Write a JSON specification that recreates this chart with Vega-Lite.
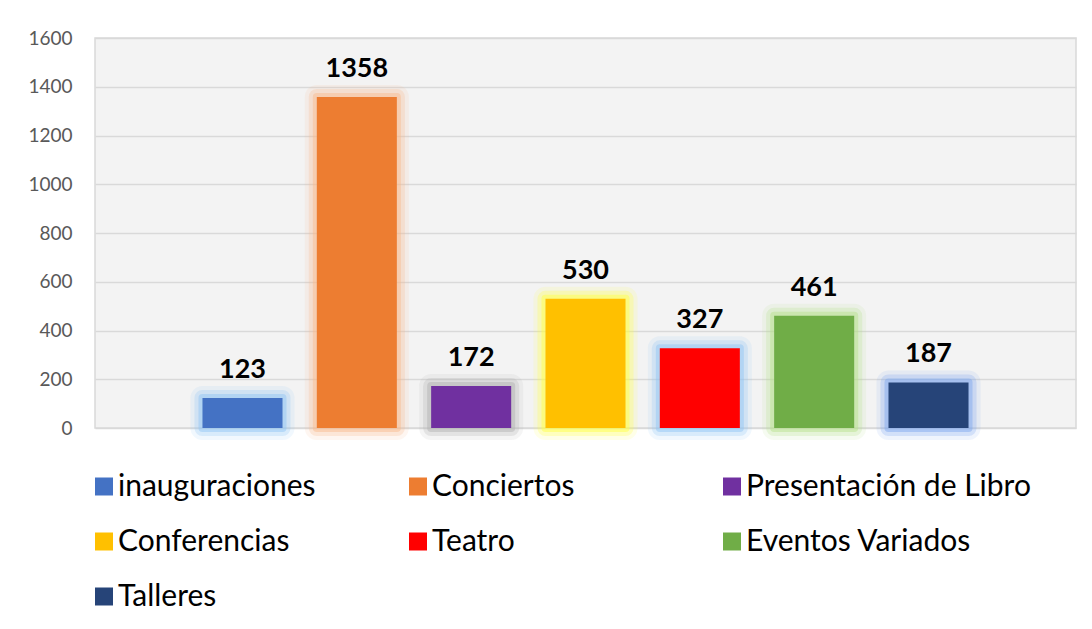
{
  "$schema": "https://vega.github.io/schema/vega-lite/v6.json",
  "width": 981,
  "height": 390,
  "autosize": {"type": "none"},
  "padding": {"left": 95, "top": 38, "right": 16, "bottom": 201},
  "background": "white",
  "config": {
    "font": "Lato",
    "view": {"fill": "#f3f3f3", "stroke": "#d9d9d9", "strokeWidth": 1.5},
    "legend": {
      "orient": "none",
      "legendX": -6,
      "legendY": 433.5,
      "direction": "horizontal",
      "columns": 3,
      "gridAlign": "all",
      "columnPadding": 0,
      "rowPadding": 25,
      "padding": 0,
      "symbolType": "square",
      "symbolSize": 324,
      "symbolStrokeWidth": 0,
      "symbolOpacity": 1,
      "labelFontSize": 30,
      "labelFont": "Lato",
      "labelColor": "#000000",
      "labelOffset": -1,
      "labelLimit": 400,
      "title": null
    }
  },
  "data": {
    "values": [
      {"categoria": "inauguraciones", "valor": 123},
      {"categoria": "Conciertos", "valor": 1358},
      {"categoria": "Presentación de Libro", "valor": 172},
      {"categoria": "Conferencias", "valor": 530},
      {"categoria": "Teatro", "valor": 327},
      {"categoria": "Eventos Variados", "valor": 461},
      {"categoria": "Talleres", "valor": 187}
    ]
  },
  "encoding": {
    "x": {
      "field": "categoria",
      "type": "nominal",
      "sort": null,
      "scale": {"paddingInner": 0.3, "paddingOuter": 0.94},
      "axis": null
    },
    "y": {
      "field": "valor",
      "type": "quantitative",
      "scale": {"domain": [0, 1600], "nice": false},
      "axis": {
        "title": null,
        "format": "d",
        "values": [0, 200, 400, 600, 800, 1000, 1200, 1400, 1600],
        "domain": false,
        "ticks": false,
        "labelPadding": 23,
        "labelFontSize": 19,
        "labelColor": "#595959",
        "labelFont": "Lato",
        "gridColor": "#d9d9d9",
        "gridWidth": 1.5
      }
    }
  },
  "layer": [
    {
      "mark": {"type": "bar", "fillOpacity": 0, "strokeWidth": 24, "strokeOpacity": 0.12, "strokeJoin": "round"},
      "encoding": {
        "stroke": {
          "field": "categoria",
          "type": "nominal",
          "sort": null,
          "title": null,
          "scale": {
            "domain": ["inauguraciones", "Conciertos", "Presentación de Libro", "Conferencias", "Teatro", "Eventos Variados", "Talleres"],
            "range": ["#8fc3f3", "#f8b88a", "#b0b0b0", "#ffff40", "#8fc3f3", "#b5e08a", "#7aa4ee"]
          }
        }
      }
    },
    {
      "mark": {"type": "bar", "fillOpacity": 0, "strokeWidth": 16, "strokeOpacity": 0.25, "strokeJoin": "round"},
      "encoding": {
        "stroke": {"field": "categoria", "type": "nominal", "sort": null, "title": null}
      }
    },
    {
      "mark": {"type": "bar", "fillOpacity": 0, "strokeWidth": 8, "strokeOpacity": 0.45, "strokeJoin": "round"},
      "encoding": {
        "stroke": {"field": "categoria", "type": "nominal", "sort": null, "title": null}
      }
    },
    {
      "mark": {"type": "bar"},
      "encoding": {
        "fill": {
          "field": "categoria",
          "type": "nominal",
          "sort": null,
          "title": null,
          "scale": {
            "domain": ["inauguraciones", "Conciertos", "Presentación de Libro", "Conferencias", "Teatro", "Eventos Variados", "Talleres"],
            "range": ["#4472c4", "#ed7d31", "#7030a0", "#ffc000", "#ff0000", "#70ad47", "#264478"]
          }
        }
      }
    },
    {
      "mark": {"type": "text", "baseline": "alphabetic", "dy": -20, "fontSize": 27, "fontWeight": "bold", "color": "#000000"},
      "encoding": {
        "text": {"field": "valor", "type": "quantitative"}
      }
    }
  ]
}
